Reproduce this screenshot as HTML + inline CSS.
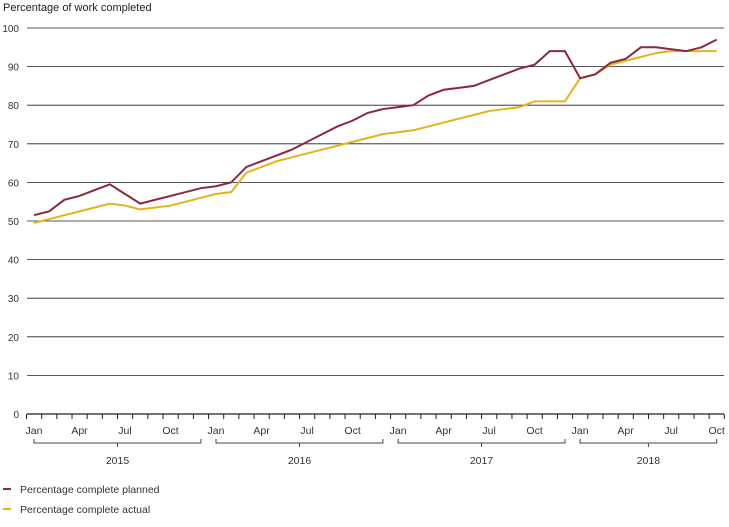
<!DOCTYPE html><html><head><style>body{margin:0;background:#fff}svg{font-family:"Liberation Sans",sans-serif}</style></head><body>
<svg width="729" height="522" xmlns="http://www.w3.org/2000/svg">
<text x="3" y="11" font-size="11" fill="#222">Percentage of work completed</text>
<g stroke="#222" stroke-width="0.8">
<line x1="27" x2="724" y1="375.4" y2="375.4"/><line x1="27" x2="724" y1="336.8" y2="336.8"/><line x1="27" x2="724" y1="298.2" y2="298.2"/><line x1="27" x2="724" y1="259.6" y2="259.6"/><line x1="27" x2="724" y1="221" y2="221"/><line x1="27" x2="724" y1="182.4" y2="182.4"/><line x1="27" x2="724" y1="143.8" y2="143.8"/><line x1="27" x2="724" y1="105.2" y2="105.2"/><line x1="27" x2="724" y1="66.6" y2="66.6"/><line x1="27" x2="724" y1="28" y2="28"/>
</g>
<line x1="27" x2="724" y1="414" y2="414" stroke="#222" stroke-width="1.2"/>
<line x1="26" x2="726" y1="416.5" y2="416.5" stroke="#222" stroke-width="5" stroke-dasharray="1 14.17"/>
<g font-size="10" text-anchor="end" fill="#333">
<text x="19" y="418">0</text><text x="19" y="379.4">10</text><text x="19" y="340.8">20</text><text x="19" y="302.2">30</text><text x="19" y="263.6">40</text><text x="19" y="225">50</text><text x="19" y="186.4">60</text><text x="19" y="147.8">70</text><text x="19" y="109.2">80</text><text x="19" y="70.6">90</text><text x="19" y="32">100</text>
</g>
<g font-size="10.5" text-anchor="middle" fill="#333">
<text x="34" y="434">Jan</text><text x="79.5" y="434">Apr</text><text x="125" y="434">Jul</text><text x="170.5" y="434">Oct</text>
<text x="216" y="434">Jan</text><text x="261.6" y="434">Apr</text><text x="307.1" y="434">Jul</text><text x="352.6" y="434">Oct</text>
<text x="398.1" y="434">Jan</text><text x="443.6" y="434">Apr</text><text x="489.1" y="434">Jul</text><text x="534.6" y="434">Oct</text>
<text x="580.1" y="434">Jan</text><text x="625.6" y="434">Apr</text><text x="671.1" y="434">Jul</text><text x="716.7" y="434">Oct</text>
<text x="117.5" y="464">2015</text><text x="299.5" y="464">2016</text><text x="481.5" y="464">2017</text><text x="648.4" y="464">2018</text>
</g>
<g fill="none" stroke="#444">
<path d="M34 439V443H200.9V439M117.5 443V447"/>
<path d="M216 439V443H382.9V439M299.5 443V447"/>
<path d="M398.1 439V443H565V439M481.5 443V447"/>
<path d="M580.1 439V443H716.7V439M648.4 443V447"/>
</g>
<g transform="translate(34,414) scale(15.17,-3.86)" fill="none" stroke-width="2">
<polyline vector-effect="non-scaling-stroke" stroke="#e2b41c" points="0,49.5 1,50.5 2,51.5 3,52.5 4,53.5 5,54.5 6,54 7,53 8,53.5 9,54 10,55 11,56 12,57 13,57.5 14,62.5 15,64 16,65.5 17,66.5 18,67.5 19,68.5 20,69.5 21,70.5 22,71.5 23,72.5 24,73 25,73.5 26,74.5 27,75.5 28,76.5 29,77.5 30,78.5 31,79 32,79.5 33,81 34,81 35,81 36,87 37,88 38,90.5 39,91.5 40,92.5 41,93.5 42,94 43,94 44,94 45,94"/>
<polyline vector-effect="non-scaling-stroke" stroke="#8b2740" points="0,51.5 1,52.5 2,55.5 3,56.5 4,58 5,59.5 6,57 7,54.5 8,55.5 9,56.5 10,57.5 11,58.5 12,59 13,60 14,64 15,65.5 16,67 17,68.5 18,70.5 19,72.5 20,74.5 21,76 22,78 23,79 24,79.5 25,80 26,82.5 27,84 28,84.5 29,85 30,86.5 31,88 32,89.5 33,90.5 34,94 35,94 36,87 37,88 38,91 39,92 40,95 41,95 42,94.5 43,94 44,95 45,97"/>
</g>
<line x1="3" x2="11" y1="489" y2="489" stroke="#8b2740" stroke-width="2"/><text x="20" y="493" font-size="10.5" fill="#333">Percentage complete planned</text>
<line x1="3" x2="11" y1="509" y2="509" stroke="#e2b41c" stroke-width="2"/><text x="20" y="513" font-size="10.5" fill="#333">Percentage complete actual</text>
</svg></body></html>
